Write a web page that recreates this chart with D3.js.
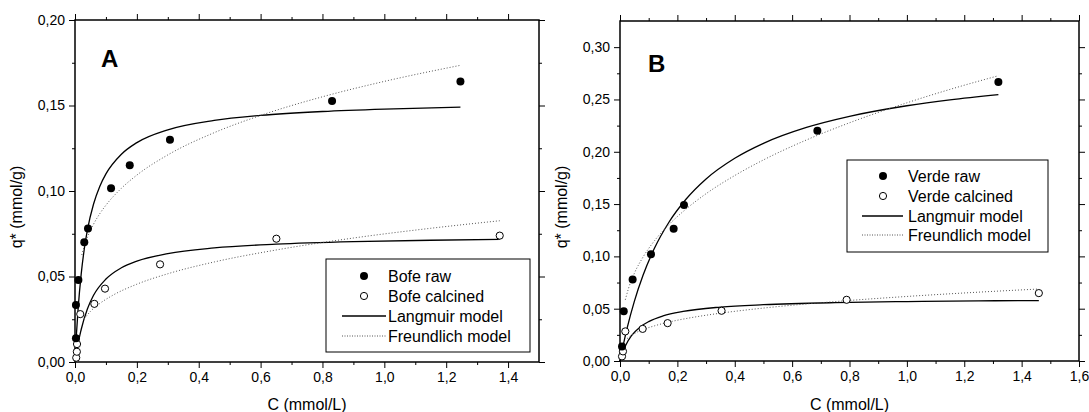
<!DOCTYPE html>
<html>
<head>
<meta charset="utf-8">
<script src="https://cdn.jsdelivr.net/npm/d3@7"></script>
<style>
body { margin: 0; background: #fff; }
svg { font-family: "Liberation Sans", Arial, sans-serif; }
</style>
</head>
<body>
<div id="chart"></div>
<script>

// measured points [C, q*]
const bofeRaw = [[0.003, 0.0139], [0.003, 0.0333], [0.011, 0.048], [0.030, 0.070], [0.042, 0.078],
    [0.1165, 0.1016], [0.177, 0.115], [0.307, 0.130], [0.831, 0.1526], [1.246, 0.164]];
const bofeCalcined = [[0.004, 0.0025], [0.006, 0.006], [0.0065, 0.0105], [0.017, 0.028], [0.0625, 0.034],
    [0.097, 0.0429], [0.275, 0.0571], [0.651, 0.0721], [1.373, 0.0739]];
const verdeRaw = [[0.007, 0.0139], [0.013, 0.0475], [0.044, 0.078], [0.108, 0.102], [0.187, 0.1265],
    [0.223, 0.149], [0.688, 0.220], [1.319, 0.2668]];
const verdeCalcined = [[0.007, 0.0044], [0.0104, 0.0092], [0.0185, 0.0283], [0.079, 0.0307], [0.166, 0.0362],
    [0.354, 0.048], [0.790, 0.0585], [1.46, 0.0649]];

// model curves [C, q*]
const bofeRawLangmuir = [[0, 0], [0.005, 0.0172], [0.01, 0.0309], [0.02, 0.0514], [0.03, 0.0661], [0.04, 0.0771],
    [0.06, 0.0924], [0.08, 0.1027], [0.1, 0.1100], [0.15, 0.1215], [0.2, 0.1283], [0.3, 0.1358], [0.45, 0.1413],
    [0.6, 0.1442], [0.8, 0.1465], [1.0, 0.1479], [1.246, 0.1490]];
const bofeRawFreundlich = [[0.022, 0.0626], [0.03, 0.0677], [0.04, 0.0728], [0.06, 0.0806], [0.08, 0.0867],
    [0.1, 0.0917], [0.15, 0.1016], [0.2, 0.1093], [0.3, 0.1211], [0.45, 0.1341], [0.6, 0.1442], [0.8, 0.1551],
    [1.0, 0.1641], [1.246, 0.1735]];
const bofeCalcinedLangmuir = [[0.004, 0.003], [0.01, 0.0105], [0.02, 0.019], [0.04, 0.031], [0.06, 0.039],
    [0.1, 0.0485], [0.15, 0.0551], [0.2, 0.0590], [0.3, 0.0634], [0.45, 0.0667], [0.65, 0.0689], [0.9, 0.0704],
    [1.15, 0.0712], [1.373, 0.0717]];
const bofeCalcinedFreundlich = [[0.03, 0.0253], [0.05, 0.0296], [0.08, 0.0342], [0.12, 0.0388], [0.2, 0.0455],
    [0.3, 0.0516], [0.45, 0.0585], [0.65, 0.0655], [0.9, 0.0725], [1.15, 0.0782], [1.373, 0.0826]];
const verdeRawLangmuir = [[0, 0], [0.01, 0.0135], [0.025, 0.0316], [0.05, 0.0570], [0.08, 0.0817], [0.12, 0.1077],
    [0.17, 0.1324], [0.23, 0.1546], [0.3, 0.1740], [0.4, 0.1938], [0.5, 0.2081], [0.65, 0.2233], [0.8, 0.2339],
    [1.0, 0.2440], [1.15, 0.2497], [1.319, 0.2547]];
const verdeRawFreundlich = [[0.0185, 0.0585], [0.03, 0.0697], [0.05, 0.0838], [0.08, 0.0992], [0.12, 0.1149],
    [0.17, 0.1302], [0.23, 0.1452], [0.3, 0.1599], [0.4, 0.1773], [0.5, 0.1922], [0.65, 0.2113], [0.8, 0.2277],
    [1.0, 0.2468], [1.15, 0.2596], [1.319, 0.2727]];
const verdeCalcinedLangmuir = [[0, 0], [0.005, 0.0047], [0.01, 0.0087], [0.02, 0.0151], [0.04, 0.0242],
    [0.07, 0.0325], [0.1, 0.0377], [0.15, 0.0431], [0.22, 0.0474], [0.35, 0.0515], [0.5, 0.0538], [0.75, 0.0558],
    [1.0, 0.0568], [1.25, 0.0575], [1.46, 0.0578]];
const verdeCalcinedFreundlich = [[0.025, 0.0215], [0.05, 0.0262], [0.08, 0.0300], [0.12, 0.0336], [0.18, 0.0378],
    [0.26, 0.0420], [0.35, 0.0457], [0.5, 0.0506], [0.75, 0.0568], [1.0, 0.0617], [1.25, 0.0658], [1.46, 0.0688]];

// axes
const xTicksA = [0, 0.2, 0.4, 0.6, 0.8, 1.0, 1.2, 1.4];
const xTicksB = [0, 0.2, 0.4, 0.6, 0.8, 1.0, 1.2, 1.4, 1.6];
const yTicksA = [0, 0.05, 0.10, 0.15, 0.20];
const yTicksB = [0, 0.05, 0.10, 0.15, 0.20, 0.25, 0.30];
const legendA = ['Bofe raw', 'Bofe calcined', 'Langmuir model', 'Freundlich model'];
const legendB = ['Verde raw', 'Verde calcined', 'Langmuir model', 'Freundlich model'];

const width = 1089;
const height = 412;

const fmt1 = d => d3.format('.1f')(d).replace('.', ',');
const fmt2 = d => d3.format('.2f')(d).replace('.', ',');

const svg = d3.select('#chart')
.append('svg')
.attr('width', width)
.attr('height', height);

function minorOf(max, step){
    // every half step between majors
    const out = [];
    for (let v = step / 2; v < max + 1e-9; v += step) out.push(+v.toFixed(4));
    return out;
}

function drawPanel(p){
    const g = svg.append('g');
    
    const x = d3.scaleLinear()
    .domain([0, p.xMax])
    .range([p.left, p.right]);
    
    const y = d3.scaleLinear()
    .domain([0, p.yMax])
    .range([p.bottom, p.top]);
    
    const xMinor = minorOf(p.xMax, 0.2).filter(v => v < p.xMax);
    const yMinor = minorOf(p.yMax, 0.05).filter(v => v < p.yMax);
    
    // axes, major + minor, on all four sides
    const axes = [
        [d3.axisBottom(x).tickValues(p.xTicks).tickFormat(fmt1), `translate(0, ${p.bottom})`, xMinor, d3.axisBottom(x)],
        [d3.axisTop(x).tickValues(p.xTicks).tickFormat(''), `translate(0, ${p.top})`, xMinor, d3.axisTop(x)],
        [d3.axisLeft(y).tickValues(p.yTicks).tickFormat(fmt2), `translate(${p.left}, 0)`, yMinor, d3.axisLeft(y)],
        [d3.axisRight(y).tickValues(p.yTicks).tickFormat(''), `translate(${p.right}, 0)`, yMinor, d3.axisRight(y)]
    ];
    axes.forEach(([ax, tr, minor, axMinor]) => {
        g.append('g')
        .attr('transform', tr)
        .call(ax.tickSize(6).tickPadding(4).tickSizeOuter(0))
        .call(s => s.select('.domain').remove())
        .call(s => s.selectAll('text').attr('font-size', 14).attr('font-family', null).attr('fill', '#000'));
        g.append('g')
        .attr('transform', tr)
        .call(axMinor.tickValues(minor).tickSize(3).tickFormat('').tickSizeOuter(0))
        .call(s => s.select('.domain').remove());
    });
    
    // frame
    g.append('rect')
    .attr('x', p.left)
    .attr('y', p.top)
    .attr('width', p.right - p.left)
    .attr('height', p.bottom - p.top)
    .attr('fill', 'none')
    .attr('stroke', '#000')
    .attr('stroke-width', 1.5);
    
    // titles
    g.append('text')
    .attr('x', (p.left + p.right) / 2)
    .attr('y', 410)
    .attr('text-anchor', 'middle')
    .attr('font-size', 16)
    .text('C (mmol/L)');
    
    g.append('text')
    .attr('transform', `translate(${p.left - 53}, 207) rotate(-90)`)
    .attr('text-anchor', 'middle')
    .attr('font-size', 16)
    .text('q* (mmol/g)');
    
    g.append('text')
    .attr('x', p.letterX)
    .attr('y', p.letterY)
    .attr('font-size', 24)
    .attr('font-weight', 'bold')
    .text(p.letter);
    
    // model curves
    const line = d3.line()
    .x(d => x(d[0]))
    .y(d => y(d[1]))
    .curve(d3.curveMonotoneX);
    
    p.langmuir.forEach(c => {
        g.append('path')
        .attr('d', line(c))
        .attr('fill', 'none')
        .attr('stroke', '#000')
        .attr('stroke-width', 1.3);
    });
    p.freundlich.forEach(c => {
        g.append('path')
        .attr('d', line(c))
        .attr('fill', 'none')
        .attr('stroke', '#555')
        .attr('stroke-width', 1)
        .attr('stroke-dasharray', '1,2');
    });
    
    // points
    g.append('g')
    .selectAll('circle')
    .data(p.open)
    .join('circle')
    .attr('cx', d => x(d[0]))
    .attr('cy', d => y(d[1]))
    .attr('r', 3.6)
    .attr('fill', '#fff')
    .attr('stroke', '#000')
    .attr('stroke-width', 1);
    
    g.append('g')
    .selectAll('circle')
    .data(p.filled)
    .join('circle')
    .attr('cx', d => x(d[0]))
    .attr('cy', d => y(d[1]))
    .attr('r', 4)
    .attr('fill', '#000');
    
    // legend
    const lg = p.legend;
    g.append('rect')
    .attr('x', lg.x0)
    .attr('y', lg.y0)
    .attr('width', lg.x1 - lg.x0)
    .attr('height', lg.y1 - lg.y0)
    .attr('fill', '#fff')
    .attr('stroke', '#000')
    .attr('stroke-width', 1);
    
    lg.labels.forEach((label, i) => {
        const ry = lg.rows[i];
        if (i === 0) {
            g.append('circle').attr('cx', lg.sym).attr('cy', ry).attr('r', 4).attr('fill', '#000');
        } else if (i === 1) {
            g.append('circle').attr('cx', lg.sym).attr('cy', ry).attr('r', 3.6)
            .attr('fill', '#fff').attr('stroke', '#000');
        } else {
            g.append('line')
            .attr('x1', lg.line0).attr('x2', lg.line1)
            .attr('y1', ry).attr('y2', ry)
            .attr('stroke', i === 2 ? '#000' : '#555')
            .attr('stroke-width', i === 2 ? 1.3 : 1)
            .attr('stroke-dasharray', i === 2 ? null : '1,1.5');
        }
        g.append('text')
        .attr('x', lg.text)
        .attr('y', ry + 6)
        .attr('font-size', 16)
        .text(label);
    });
}

drawPanel({
    left: 75, right: 539, top: 20, bottom: 362,
    xMax: 1.5, yMax: 0.2, xTicks: xTicksA, yTicks: yTicksA,
    letter: 'A', letterX: 101, letterY: 67,
    filled: bofeRaw, open: bofeCalcined,
    langmuir: [bofeRawLangmuir, bofeCalcinedLangmuir],
    freundlich: [bofeRawFreundlich, bofeCalcinedFreundlich],
    legend: {x0: 326, x1: 530, y0: 259, y1: 352, rows: [276, 296, 316, 336],
        sym: 364, text: 388, line0: 342, line1: 386, labels: legendA}
});

drawPanel({
    left: 620, right: 1079, top: 21, bottom: 361,
    xMax: 1.6, yMax: 0.325, xTicks: xTicksB, yTicks: yTicksB,
    letter: 'B', letterX: 648, letterY: 72,
    filled: verdeRaw, open: verdeCalcined,
    langmuir: [verdeRawLangmuir, verdeCalcinedLangmuir],
    freundlich: [verdeRawFreundlich, verdeCalcinedFreundlich],
    legend: {x0: 847, x1: 1048, y0: 160, y1: 252, rows: [176, 196, 216, 235],
        sym: 883, text: 908, line0: 862, line1: 903, labels: legendB}
});

</script>
</body>
</html>
